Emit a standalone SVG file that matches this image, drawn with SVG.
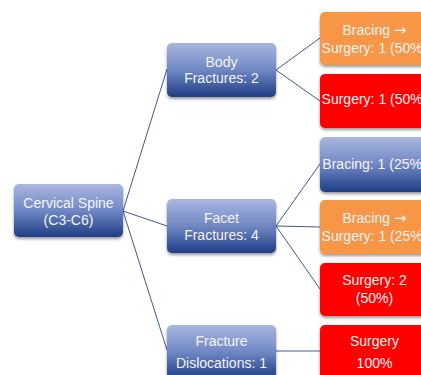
<svg xmlns="http://www.w3.org/2000/svg" width="421" height="375" viewBox="0 0 421 375">
<defs>
<linearGradient id="blue" x1="0" y1="0" x2="0" y2="1">
<stop offset="0" stop-color="#a9b7df"/>
<stop offset="0.5" stop-color="#7087c4"/>
<stop offset="1" stop-color="#1f3d85"/>
</linearGradient>
<filter id="sh" x="-10%" y="-10%" width="130%" height="140%">
<feDropShadow dx="0" dy="2" stdDeviation="1.8" flood-color="#000" flood-opacity="0.4"/>
</filter>
</defs>
<style>
.b{fill:url(#blue);filter:url(#sh)}
.o{fill:#f79646;filter:url(#sh)}
.r{fill:#ff0000;filter:url(#sh)}
text{font-family:"Liberation Sans","Open Sans",sans-serif;font-size:14px;fill:#f4f4f4;text-anchor:middle}
.a{font-family:"DejaVu Sans",sans-serif;font-size:15px}
.c{stroke:#3d5a91;stroke-width:1;fill:none}
</style>
<rect width="421" height="375" fill="#ffffff"/>
<g id="connectors">
<line class="c" x1="123" y1="211" x2="167" y2="69"/>
<line class="c" x1="123" y1="211" x2="167" y2="226"/>
<line class="c" x1="123" y1="211" x2="167" y2="350"/>
<line class="c" x1="276" y1="70" x2="320" y2="38"/>
<line class="c" x1="276" y1="70" x2="320" y2="101"/>
<line class="c" x1="276" y1="226" x2="320" y2="164"/>
<line class="c" x1="276" y1="226" x2="320" y2="227"/>
<line class="c" x1="276" y1="226" x2="320" y2="289"/>
<line class="c" x1="276" y1="351" x2="320" y2="351"/>
</g>
<g id="root">
<rect class="b" x="14" y="184" width="109" height="53" rx="5"/>
<text x="68.5" y="208">Cervical Spine</text>
<text x="68.5" y="225">(C3-C6)</text>
</g>
<g id="body">
<rect class="b" x="167" y="43" width="109" height="54" rx="5"/>
<text x="221.5" y="67">Body</text>
<text x="221.5" y="83">Fractures: 2</text>
</g>
<g id="facet">
<rect class="b" x="167" y="199" width="109" height="54" rx="5"/>
<text x="221.5" y="223">Facet</text>
<text x="221.5" y="240">Fractures: 4</text>
</g>
<g id="dislocation">
<rect class="b" x="167" y="325" width="109" height="54" rx="5"/>
<text x="221.5" y="346">Fracture</text>
<text x="221.5" y="368">Dislocations: 1</text>
</g>
<g id="body-bracing-surgery">
<rect class="o" x="320" y="12" width="109" height="53" rx="5"/>
<text x="374.5" y="35">Bracing <tspan class="a">→</tspan></text>
<text x="374.5" y="53">Surgery: 1 (50%)</text>
</g>
<g id="body-surgery">
<rect class="r" x="320" y="74" width="109" height="54" rx="5"/>
<text x="374.5" y="104">Surgery: 1 (50%)</text>
</g>
<g id="facet-bracing">
<rect class="b" x="320" y="137" width="109" height="55" rx="5"/>
<text x="374.5" y="169">Bracing: 1 (25%)</text>
</g>
<g id="facet-bracing-surgery">
<rect class="o" x="320" y="200" width="109" height="54" rx="5"/>
<text x="374.5" y="223">Bracing <tspan class="a">→</tspan></text>
<text x="374.5" y="241">Surgery: 1 (25%)</text>
</g>
<g id="facet-surgery">
<rect class="r" x="320" y="263" width="109" height="53" rx="5"/>
<text x="374.5" y="285">Surgery: 2</text>
<text x="374.5" y="303">(50%)</text>
</g>
<g id="dislocation-surgery">
<rect class="r" x="320" y="325" width="109" height="54" rx="5"/>
<text x="374.5" y="346">Surgery</text>
<text x="374.5" y="368">100%</text>
</g>
</svg>
